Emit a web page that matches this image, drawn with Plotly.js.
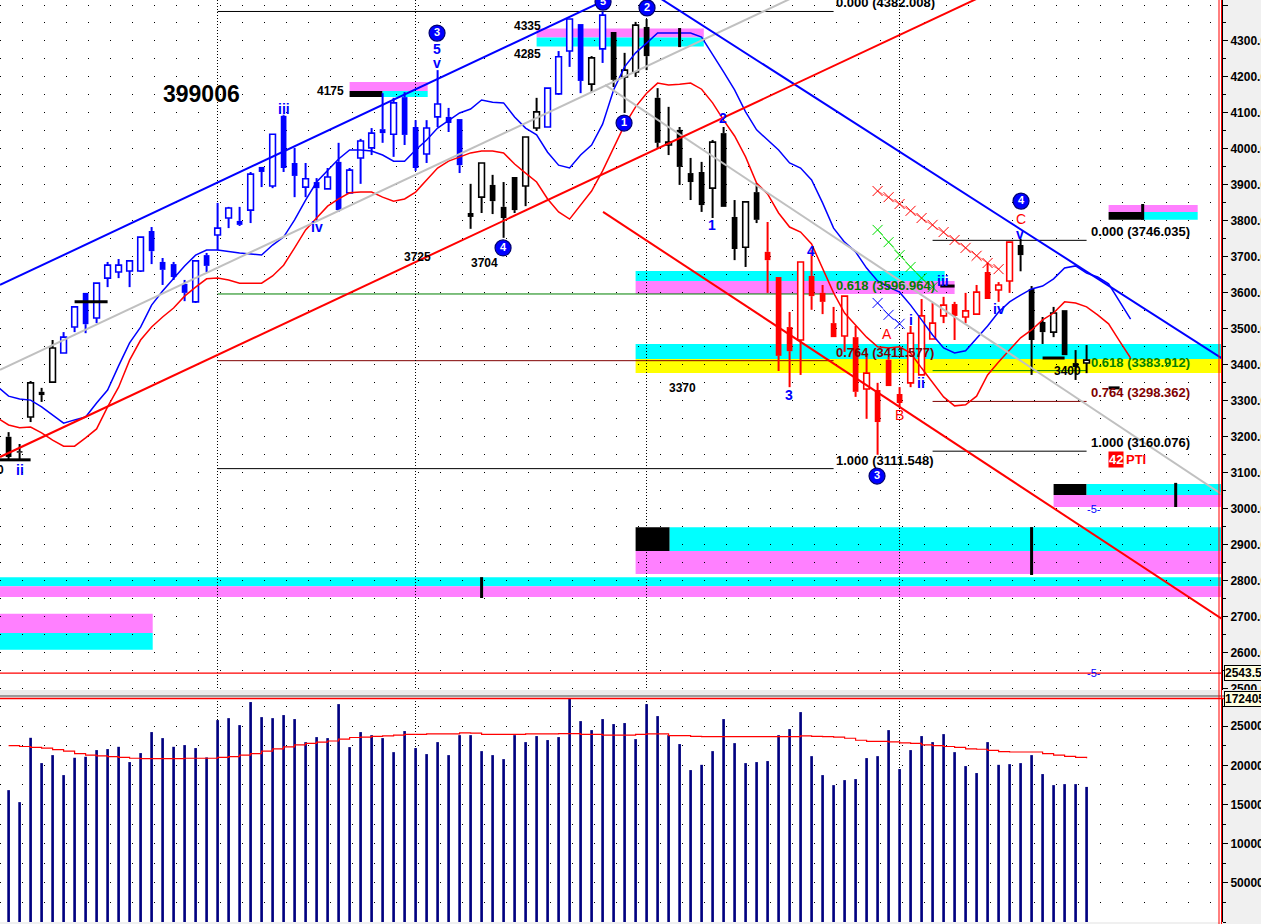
<!DOCTYPE html>
<html><head><meta charset="utf-8">
<script src="https://cdn.plot.ly/plotly-3.0.1.min.js"></script>
<style>html,body{margin:0;padding:0;background:#f0f0f0;overflow:hidden}#chart{width:1261px;height:924px;}</style>
</head><body><div id="chart"></div>
<script>
// ---------------- DATA ----------------
const openP = [3200,3160,3255,3325,3352,3433,3505,3600,3530,3641,
3658,3661,3661,3772,3686,3680,3625,3575,3705,3761,
3808,3800,3830,3950,3897,4092,3961,3894,3908,3889,
3964,3878,3975,4003,4055,4041,4144,4061,3986,4089,
4089,4083,3822,3866,3900,3839,3922,3897,4058,4061,
4153,4272,4347,4180,4278,4325,4200,4214,4339,4142,
4011,4053,3933,3936,3891,4044,3811,3727,3880,3714,
3644,3505,3469,3647,3600,3516,3480,3477,3333,3330,
3414,3319,3350,3372,3472,3536,3569,3533,3541,3658,
3608,3633,3733,3611,3519,3491,3552,3405,3405];
const highP = [3213,3180,3355,3336,3469,3491,3561,3600,3627,3686,
3694,3689,3755,3783,3697,3686,3636,3689,3711,3850,
3839,3839,3936,3950,4041,4095,4003,3961,3919,3947,
4017,3947,4028,4058,4155,4142,4158,4080,4080,4219,
4114,4083,3903,3961,3928,3908,3922,4033,4142,4169,
4272,4361,4347,4258,4382,4325,4267,4353,4361,4169,
4117,4061,3975,3964,4025,4061,3858,3853,3905,3797,
3644,3547,3686,3719,3622,3561,3591,3508,3433,3350,
3422,3338,3508,3583,3572,3589,3575,3600,3622,3683,
3630,3741,3750,3619,3533,3561,3552,3441,3455];
const lowP = [3136,3135,3241,3297,3352,3433,3491,3488,3516,3616,
3641,3616,3658,3680,3622,3636,3577,3572,3658,3719,
3780,3786,3794,3894,3891,3936,3866,3866,3800,3889,
3825,3878,3903,3983,4017,3978,4011,3939,3961,4061,
4047,3933,3778,3822,3819,3753,3822,3841,4050,4061,
4150,4228,4155,4158,4239,4172,4100,4200,4219,4003,
3983,3900,3858,3825,3808,3839,3691,3672,3794,3600,
3383,3338,3372,3553,3541,3477,3436,3311,3250,3150,
3341,3283,3338,3372,3472,3516,3469,3516,3539,3583,
3575,3600,3660,3372,3458,3477,3427,3358,3377];
const closeP = [3144,3156,3350,3316,3447,3477,3561,3513,3627,3677,
3677,3689,3755,3716,3664,3644,3600,3689,3675,3780,
3836,3789,3930,3936,4041,3947,3925,3917,3891,3922,
3830,3941,4022,4044,4044,4128,4039,3947,4058,4125,
4072,3955,3811,3961,3855,3808,3830,4033,4103,4169,
4256,4361,4189,4253,4372,4192,4219,4344,4258,4017,
4019,3950,3908,3844,4019,3839,3722,3853,3803,3691,
3425,3438,3686,3591,3575,3477,3591,3325,3377,3241,
3341,3294,3488,3536,3516,3566,3536,3550,3602,3583,
3622,3741,3705,3469,3491,3544,3427,3394,3413];
const volume = [168300,153000,235100,202800,213000,187500,209600,210900,219400,220700,
223600,204100,215600,242400,234700,223600,225800,222000,210100,257700,
260200,251300,280700,261500,260200,264100,259000,229600,236000,234700,
278100,223200,242400,238500,234700,216800,243700,222000,214300,229600,
213000,238500,238500,218100,213000,207900,238500,229600,237300,232200,
236000,285800,256400,244900,259000,252600,253900,233400,278100,262800,
238500,227100,193900,200600,218100,259000,228300,202800,204100,205400,
238500,246200,267900,211700,187500,174700,181100,182400,209200,211700,
244900,195200,219400,237300,229600,239800,216800,199000,190100,229600,
200600,201500,202800,213000,188800,174700,176000,176000,172405];
const volumeMA = [225000,224000,223000,222000,220000,218000,215000,213000,212000,211000,
210000,209000,208500,208500,208500,208500,209000,209000,209000,210000,
211000,213000,215000,218000,221000,223500,226000,228000,229500,231000,
233500,235500,236000,237000,237500,238500,239500,239500,240000,240000,
240000,241500,241000,239500,239500,239500,239500,240000,240000,240000,
240500,240500,239500,239500,238500,238500,238500,239500,240000,240000,
238000,238000,237000,236500,236500,236500,236500,236500,236500,236500,
236500,236500,237500,237000,236500,236000,234500,232000,230500,230500,
230000,228500,228000,226000,225000,224000,223000,221000,220500,219000,
217500,217000,217000,217000,215000,213000,211500,210000,209000];
// displaced moving averages, bar index -1 .. 102
const maBlue = [3339,
3313,3305,3302,3283,3261,3238,3247,3255,3294,3330,
3397,3461,3505,3566,3605,3639,3675,3705,3719,3719,
3714,3711,3708,3705,3733,3755,3803,3858,3908,3941,
3972,3997,3997,3994,3983,3966,3966,3997,4025,4058,
4080,4100,4111,4136,4130,4128,4089,4058,4039,3991,
3955,3947,3983,4011,4069,4164,4228,4267,4294,4322,
4322,4322,4322,4311,4264,4214,4164,4103,4053,4025,
3997,3961,3947,3914,3850,3780,3741,3714,3669,3633,
3616,3602,3566,3525,3483,3447,3433,3439,3472,3508,
3547,3575,3594,3611,3619,3639,3669,3675,3655,3644,
3625,3577,3527];
const maRed = [3252,
3233,3225,3227,3211,3191,3174,3174,3197,3222,3283,
3338,3413,3469,3505,3533,3558,3591,3616,3639,3641,
3636,3627,3627,3627,3647,3677,3725,3775,3808,3841,
3861,3878,3880,3880,3866,3855,3861,3880,3914,3947,
3966,3978,3989,3994,3994,3989,3958,3933,3908,3861,
3825,3805,3844,3883,3939,4005,4067,4117,4155,4183,
4178,4180,4183,4166,4128,4080,4036,3978,3905,3875,
3822,3783,3769,3736,3669,3600,3544,3511,3477,3450,
3447,3450,3433,3391,3350,3311,3286,3289,3313,3372,
3408,3441,3475,3497,3525,3544,3575,3572,3561,3539,
3514,3466,3419];
// trend lines: [startIdx, startPrice, endIdx, endPrice]
const trendBlueUp   = [-0.78, 3622, 55.58, 4433];
const trendBlueDown = [58.76, 4428, 110.31, 3418];
const trendRedUp    = [-0.78, 3144, 88.76, 4428];
const trendRedDown  = [54.04, 3825, 110.31, 2694];
const trendGrayUp   = [-0.78, 3386, 71.95, 4430];
const trendGrayDown = [54.22, 4178, 110.31, 3040];
// Fibonacci sets
const fibLevels = ['0.000','0.618','0.764','1.000'];
const fibLeftPrices  = [4382.008, 3596.964, 3411.577, 3111.548];
const fibRightPrices = [3746.035, 3383.912, 3298.362, 3160.076];
const fibLeftSpan  = [19, 75];
const fibRightSpan = [84, 98];
// target zones: start idx, end idx, low, high, kind
const zoneStart = [31, 31, 34,   48, 48,   57, 57,   57, 57,   100, 100, 103.1,   95, 98, 95,   57, 60.1, 57,   -1, -1,   -1, -1];
const zoneEnd   = [38.1, 34, 38.1, 63.2, 63.2, 85.1, 86, 110.4, 110.4, 108.1, 103.1, 108.1, 98, 110.4, 110.4, 60.1, 110.4, 110.4, 110.4, 110.4, 13.1, 13.1];
const zoneLow   = [4161, 4144, 4144, 4310, 4285, 3633, 3597, 3416, 3377, 3825, 3803, 3803, 3038, 3038, 3005, 2883, 2883, 2819, 2785, 2755, 2655, 2608];
const zoneHigh  = [4186, 4161, 4161, 4335, 4310, 3661, 3633, 3458, 3416, 3844, 3825, 3825, 3069, 3069, 3038, 2949, 2949, 2883, 2810, 2785, 2708, 2655];
const zoneKind  = ['pink','black','cyan','pink','cyan','cyan','pink','cyan','yellow','pink','black','cyan','black','cyan','pink','black','cyan','pink','cyan','pink','pink','cyan'];
const zoneTickIdx = [61, 43, 93, 106.1, 103.1];
const zoneTickLow = [4283, 2752, 2816, 3005, 3803];
const zoneTickHigh= [4336, 2810, 2949, 3072, 3847];
const markStart = [-0.8, 6, 84.7, 94, 100];
const markEnd   = [2, 9, 86, 96, 101];
const markPrice = [3136, 3575, 3619, 3419, 3336];
const supportLine = 2543.5;
// wave counts
const circleText  = ['3','4','5','2','1','3','4'];
const circleIdx   = [38.95, 44.95, 54.04, 58.04, 55.95, 78.95, 92.04];
const circlePrice = [4322, 3725, 4408, 4392, 4072, 3091, 3855];
const waveText  = ['iii','iv','5','v','1','2','3','4','i','ii','iii','iv','v','ii','A','B','C'];
const waveIdx   = [25.04, 28.04, 38.95, 38.95, 63.95, 64.95, 70.95, 72.95, 82.04, 82.95, 84.95, 90.04, 91.95, 1.04, 79.86, 80.95, 92.04];
const wavePrice = [4111, 3783, 4278, 4239, 3789, 4086, 3316, 3716, 3525, 3350, 3633, 3555, 3764, 3108, 3486, 3261, 3805];
const priceText  = ['4175','4335','4285','3725','3704','3370','3400','0'];
const priceIdx   = [29.3, 47.2, 47.2, 37.2, 43.3, 61.26, 96.26, -0.75];
const pricePrice = [4161, 4342, 4264, 3700, 3683, 3336, 3383, 3108];
const crossRedIdx   = [79,80,81,82,83,84,85,86,87,88,89,90];
const crossRedPrice = [3883,3866,3847,3828,3808,3789,3769,3747,3725,3703,3683,3666];
const crossGreenIdx   = [79,80,81,82,83,84];
const crossGreenPrice = [3775,3741,3705,3672,3641,3616];
const crossBlueIdx   = [79,80,81];
const crossBluePrice = [3572,3539,3514];
const symbolName = '399006';
const priceTicks = [2500,2600,2700,2800,2900,3000,3100,3200,3300,3400,3500,3600,3700,3800,3900,4000,4100,4200,4300,4400];
const volTicks = [50000,100000,150000,200000,250000];

// ---------------- STYLE ----------------
const BLUE='#0000ff', RED='#ff0000', BLACK='#000000';
const colorRuns = [[0,4,BLACK],[5,41,BLUE],[42,48,BLACK],[49,52,BLUE],[53,53,BLACK],[54,54,BLUE],[55,68,BLACK],[69,91,RED],[92,98,BLACK]];
const zoneColors = {pink:'#ff80ff', cyan:'#00ffff', yellow:'#ffff00', black:'#000000'};
const FONT = 'Liberation Sans, Arial, sans-serif';
const XR = [-0.782, 110.31];

function candleColor(i){ for(const r of colorRuns){ if(i>=r[0]&&i<=r[1]) return r[2]; } return BLACK; }

const traces = [];
// candle bodies grouped by colour and fill
const groups = {};
for(let i=0;i<openP.length;i++){
  const col = candleColor(i), up = closeP[i] > openP[i];
  const key = col + (up ? 'h' : 'f');
  if(!groups[key]) groups[key] = {col, up, x:[], h:[], b:[]};
  const lo = Math.min(openP[i], closeP[i]), hi = Math.max(openP[i], closeP[i]);
  let h = hi - lo, b = lo;
  if(h < 4){ b = lo - (4-h)/2; h = 4; }
  groups[key].x.push(i); groups[key].h.push(h); groups[key].b.push(b);
}
Object.values(groups).forEach(g => {
  traces.push({type:'bar', x:g.x, y:g.h, base:g.b, width:0.52, xaxis:'x', yaxis:'y',
    marker:{color: g.up ? '#ffffff' : g.col, line:{color:g.col, width: g.up ? 1.6 : 0}},
    hoverinfo:'skip'});
});
// wicks
const wicks = {};
for(let i=0;i<openP.length;i++){
  const col = candleColor(i);
  if(!wicks[col]) wicks[col] = {x:[], y:[]};
  const top = Math.max(openP[i], closeP[i]), bot = Math.min(openP[i], closeP[i]);
  if(highP[i] > top){ wicks[col].x.push(i,i,null); wicks[col].y.push(top, highP[i], null); }
  if(lowP[i] < bot){ wicks[col].x.push(i,i,null); wicks[col].y.push(lowP[i], bot, null); }
}
Object.keys(wicks).forEach(col => {
  traces.push({type:'scatter', mode:'lines', x:wicks[col].x, y:wicks[col].y, xaxis:'x', yaxis:'y',
    line:{color:col, width:2}, connectgaps:false, hoverinfo:'skip'});
});
// moving averages
const maIdx = maBlue.map((_, k) => k - 1);
traces.push({type:'scatter', mode:'lines', x:maIdx, y:maBlue, line:{color:BLUE, width:1.5}, xaxis:'x', yaxis:'y', hoverinfo:'skip'});
traces.push({type:'scatter', mode:'lines', x:maIdx, y:maRed, line:{color:RED, width:1.5}, xaxis:'x', yaxis:'y', hoverinfo:'skip'});
// trend lines
[[trendGrayUp,'#c0c0c0'],[trendGrayDown,'#c0c0c0'],[trendBlueUp,BLUE],[trendBlueDown,BLUE],[trendRedUp,RED],[trendRedDown,RED]].forEach(([t,c]) => {
  traces.push({type:'scatter', mode:'lines', x:[t[0],t[2]], y:[t[1],t[3]], line:{color:c, width:2}, xaxis:'x', yaxis:'y', hoverinfo:'skip'});
});
// cross markers
[[crossRedIdx,crossRedPrice,RED],[crossGreenIdx,crossGreenPrice,'#00dd00'],[crossBlueIdx,crossBluePrice,BLUE]].forEach(([xs,ys,c]) => {
  traces.push({type:'scatter', mode:'lines+markers', x:xs, y:ys, line:{color:c, width:0.6},
    marker:{symbol:'x-thin-open', size:10, line:{color:c, width:1}}, xaxis:'x', yaxis:'y', hoverinfo:'skip'});
});
// wave circles
traces.push({type:'scatter', mode:'markers+text', x:circleIdx, y:circlePrice, text:circleText,
  textposition:'middle center', textfont:{family:FONT, size:11, color:'#ffffff', weight:'bold'},
  marker:{size:16, color:BLUE, line:{color:'#000070', width:1.2}}, xaxis:'x', yaxis:'y', hoverinfo:'skip'});
// volume
traces.push({type:'bar', x:volume.map((_,i)=>i), y:volume, width:0.24, marker:{color:'#000080'}, xaxis:'x', yaxis:'y2', hoverinfo:'skip'});
traces.push({type:'scatter', mode:'lines', x:volumeMA.map((_,i)=>i), y:volumeMA, line:{color:RED, width:1.2, shape:'hv'}, xaxis:'x', yaxis:'y2', hoverinfo:'skip'});

// ---------------- SHAPES ----------------
const shapes = [];
for(let k=0;k<zoneStart.length;k++){
  shapes.push({type:'rect', xref:'x', yref:'y', x0:zoneStart[k], x1:zoneEnd[k], y0:zoneLow[k], y1:zoneHigh[k],
    fillcolor:zoneColors[zoneKind[k]], line:{width:0}, layer:'below'});
}
const fibColors = [BLACK, '#008000', '#800000', BLACK];
fibLeftPrices.forEach((p,k) => shapes.push({type:'line', xref:'x', yref:'y', x0:fibLeftSpan[0], x1:fibLeftSpan[1], y0:p, y1:p, line:{color:fibColors[k], width:1}, layer:'below'}));
fibRightPrices.forEach((p,k) => shapes.push({type:'line', xref:'x', yref:'y', x0:fibRightSpan[0], x1:fibRightSpan[1], y0:p, y1:p, line:{color:fibColors[k], width:1}, layer:'below'}));
zoneTickIdx.forEach((x,k) => shapes.push({type:'line', xref:'x', yref:'y', x0:x, x1:x, y0:zoneTickLow[k], y1:zoneTickHigh[k], line:{color:BLACK, width:3}}));
markStart.forEach((x,k) => shapes.push({type:'line', xref:'x', yref:'y', x0:x, x1:markEnd[k], y0:markPrice[k], y1:markPrice[k], line:{color:BLACK, width:3}}));
shapes.push({type:'line', xref:'paper', yref:'y', x0:0, x1:1, y0:supportLine, y1:supportLine, line:{color:RED, width:1.2}});
// pane separator and right border lines
shapes.push({type:'rect', xref:'paper', yref:'paper', x0:0, x1:1.04, y0:1-697/924, y1:1-690/924, fillcolor:'#ececec', line:{width:0}});
shapes.push({type:'line', xref:'paper', yref:'paper', x0:0, x1:1.04, y0:1-696/924, y1:1-696/924, line:{color:'#808080', width:1.5}});
shapes.push({type:'line', xref:'paper', yref:'paper', x0:0, x1:1.04, y0:1-698.5/924, y1:1-698.5/924, line:{color:RED, width:1.5}});
shapes.push({type:'line', xref:'paper', yref:'paper', x0:0.99755, x1:0.99755, y0:0, y1:1, line:{color:RED, width:1}});
shapes.push({type:'line', xref:'paper', yref:'paper', x0:0.9996, x1:0.9996, y0:0, y1:1, line:{color:RED, width:1}});

// ---------------- ANNOTATIONS ----------------
const ann = [];
ann.push({x:17.54, y:4154, xref:'x', yref:'y', text:symbolName, showarrow:false, font:{family:FONT, size:23, color:BLACK, weight:'bold'}});
priceText.forEach((t,k) => ann.push({x:priceIdx[k], y:pricePrice[k], xref:'x', yref:'y', text:t, showarrow:false, font:{family:FONT, size:12, color:BLACK, weight:'bold'}}));
waveText.forEach((t,k) => {
  const red = (t==='A'||t==='B'||t==='C');
  ann.push({x:waveIdx[k], y:wavePrice[k], xref:'x', yref:'y', text:t, showarrow:false,
    font:{family:FONT, size:14, color: red ? RED : BLUE, weight: red ? 'normal' : 'bold'}});
});
fibLeftPrices.forEach((p,k) => ann.push({x:fibLeftSpan[1]+0.05, y:p, xref:'x', yref:'y', xanchor:'left', yanchor:'bottom', yshift:-1,
  text:fibLevels[k]+' ('+p.toFixed(3)+')', showarrow:false, font:{family:FONT, size:13, color:fibColors[k], weight:'bold'}}));
fibRightPrices.forEach((p,k) => ann.push({x:fibRightSpan[1]+0.25, y:p, xref:'x', yref:'y', xanchor:'left', yanchor:'bottom', yshift:-1,
  text:fibLevels[k]+' ('+p.toFixed(3)+')', showarrow:false, font:{family:FONT, size:13, color:fibColors[k], weight:'bold'}}));
ann.push({x:100.7, y:3136, xref:'x', yref:'y', text:'42', showarrow:false, bgcolor:RED, borderpad:0, font:{family:FONT, size:13, color:'#ffffff', weight:'bold'}});
ann.push({x:101.4, y:3136, xref:'x', yref:'y', xanchor:'left', text:'PTI', showarrow:false, font:{family:FONT, size:13, color:RED, weight:'bold'}});
ann.push({x:98.67, y:2999, xref:'x', yref:'y', text:'-5-', showarrow:false, font:{family:FONT, size:11, color:BLUE}});
ann.push({x:98.67, y:supportLine, xref:'x', yref:'y', text:'-5-', showarrow:false, font:{family:FONT, size:11, color:BLUE}});
ann.push({x:1, y:supportLine, xref:'paper', yref:'y', xanchor:'left', xshift:2, text:supportLine.toFixed(1)+'0', showarrow:false,
  bgcolor:'#ffffe1', bordercolor:BLACK, borderwidth:1, borderpad:0, font:{family:FONT, size:12, color:BLACK, weight:'bold'}});
ann.push({x:1, y:volume[volume.length-1] + 112000, xref:'paper', yref:'y2', xanchor:'left', xshift:2, text:String(volume[volume.length-1]), showarrow:false,
  bgcolor:'#ffffe1', bordercolor:BLACK, borderwidth:1, borderpad:0, font:{family:FONT, size:12, color:BLACK, weight:'bold'}});

const layout = {
  width:1261, height:924, showlegend:false, dragmode:false,
  paper_bgcolor:'#f0f0f0', plot_bgcolor:'#ffffff',
  margin:{l:0, r:39, t:0, b:0, pad:0},
  barmode:'overlay',
  xaxis:{range:XR, anchor:'y2', showticklabels:false, ticks:'', tickvals:[19,37,58,81],
    showgrid:true, gridcolor:BLACK, griddash:'1px,2px', gridwidth:1, zeroline:false, showline:false, fixedrange:true},
  yaxis:{domain:[1-690/924, 1], range:[2496.4, 4413.9], side:'right', anchor:'x',
    tickvals:priceTicks, ticktext:priceTicks.map(v => v.toFixed(2)),
    ticks:'outside', ticklen:5, tickcolor:BLACK, showline:true, linecolor:BLACK, linewidth:1,
    tickfont:{family:FONT, size:12, color:BLACK, weight:'bold'},
    showgrid:true, gridcolor:BLACK, griddash:'1px,21px', gridwidth:1, zeroline:false, fixedrange:true,
    minor:{dtick:50, tick0:2500, showgrid:true, gridcolor:BLACK, griddash:'1px,21px', ticks:'outside', ticklen:3, tickcolor:BLACK}},
  yaxis2:{domain:[1-922/924, 1-698/924], range:[0, 285900], side:'right', anchor:'x',
    tickvals:volTicks, ticktext:volTicks.map(String),
    ticks:'outside', ticklen:5, tickcolor:BLACK, showline:true, linecolor:BLACK, linewidth:1,
    tickfont:{family:FONT, size:12, color:BLACK, weight:'bold'},
    showgrid:true, gridcolor:BLACK, griddash:'1px,21px', gridwidth:1, zeroline:false, fixedrange:true,
    minor:{dtick:25000, tick0:0, showgrid:true, gridcolor:BLACK, griddash:'1px,21px', ticks:'outside', ticklen:3, tickcolor:BLACK}},
  shapes:shapes, annotations:ann
};
Plotly.newPlot('chart', traces, layout, {staticPlot:true, displayModeBar:false});
</script></body></html>
